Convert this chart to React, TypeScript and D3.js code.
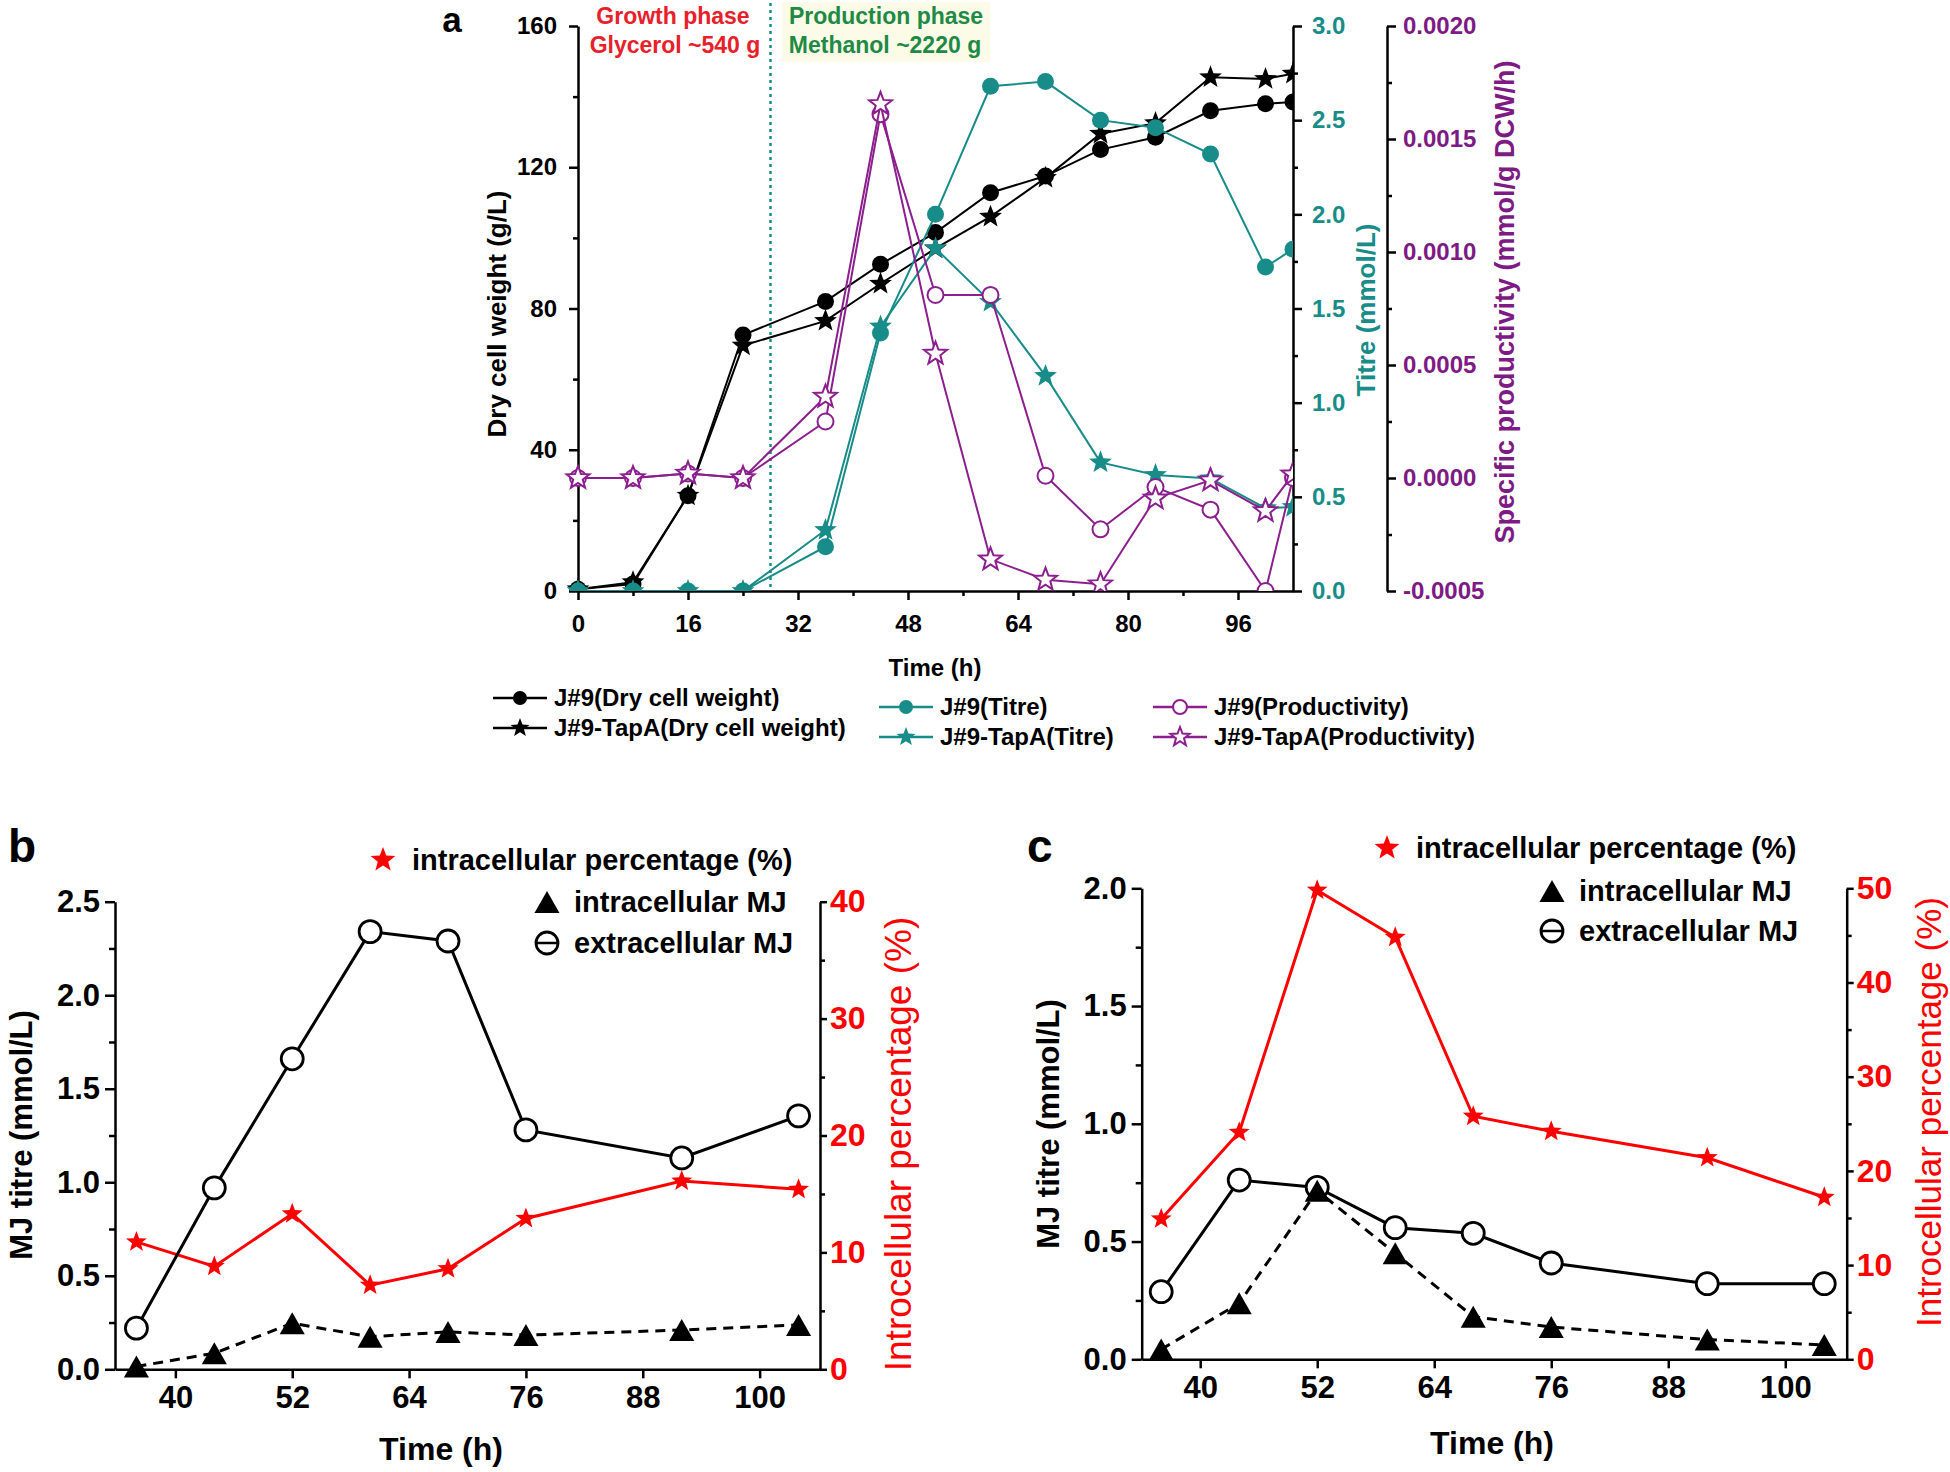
import React, { useEffect, useRef } from 'react';
import * as d3 from 'd3';

const FONT = '"Liberation Sans", Arial, Helvetica, sans-serif';
const TEAL = '#178c88';
const PURPLE = '#8b1f8e';
const PURPLE_TXT = '#7d1a84';
const RED = '#ff0000';
const GROWTH_RED = '#e8202a';
const PROD_GREEN = '#1f8a45';

// ---------------- Panel a data ----------------
const timeA = [0, 8, 16, 24, 36, 44, 52, 60, 68, 76, 84, 92, 100, 104];
const dcwJ9 = [0.5, 2, 27, 72.5, 82, 92.5, 101.5, 112.8, 117.5, 125, 128.5, 136, 138, 138.5];
const dcwTapA = [0.5, 2.5, 27, 69.5, 76.5, 87, 97, 106, 117, 129.5, 132.5, 145.5, 145, 146.5];
const titreJ9 = [0, 0, 0, 0, 0.235, 1.37, 2.0, 2.68, 2.705, 2.5, 2.46, 2.32, 1.72, 1.815];
const titreTapA = [0, 0, 0, 0, 0.324, 1.404, 1.82, 1.535, 1.142, 0.683, 0.616, 0.598, 0.44, 0.446];
const prodJ9 = [0, 0, 0.00002, 0, 0.00025, 0.00161, 0.00081, 0.00081, 0.00001, -0.000227, -0.00004, -0.00014, -0.0005, 0];
const prodTapA = [0, 0, 0.00002, 0, 0.00036, 0.001655, 0.00055, -0.00036, -0.00045, -0.00047, -0.00009, -0.00001, -0.000146, 0.000016];
const dcwTicks = [0, 40, 80, 120, 160];
const dcwMinor = [20, 60, 100, 140];
const timeTicksA = [0, 16, 32, 48, 64, 80, 96];
const timeMinorA = [8, 24, 40, 56, 72, 88];
const titreTicks = [0, 0.5, 1, 1.5, 2, 2.5, 3];
const titreMinor = [0.25, 0.75, 1.25, 1.75, 2.25, 2.75];
const prodTicks = [-0.0005, 0, 0.0005, 0.001, 0.0015, 0.002];
const prodMinor = [-0.00025, 0.00025, 0.00075, 0.00125, 0.00175];
const phaseBoundary = 28;
const legendA = [
  'J#9(Dry cell weight)', 'J#9-TapA(Dry cell weight)',
  'J#9(Titre)', 'J#9-TapA(Titre)',
  'J#9(Productivity)', 'J#9-TapA(Productivity)',
];

// ---------------- Panels b / c data ----------------
const timeBC = [36, 44, 52, 60, 68, 76, 92, 104];
const timeTicksBC = [40, 52, 64, 76, 88, 100];
const extraB = [0.22, 0.97, 1.66, 2.34, 2.29, 1.28, 1.13, 1.355];
const intraB = [0.015, 0.086, 0.246, 0.174, 0.2, 0.183, 0.21, 0.237];
const pctB = [10.9, 8.8, 13.3, 7.2, 8.6, 12.9, 16.1, 15.4];
const extraC = [0.287, 0.761, 0.73, 0.559, 0.535, 0.409, 0.321, 0.321];
const intraC = [0.042, 0.238, 0.716, 0.45, 0.181, 0.137, 0.084, 0.061];
const pctC = [14.9, 24.1, 49.8, 44.8, 25.8, 24.2, 21.4, 17.2];
const titreTicksB = [0, 0.5, 1, 1.5, 2, 2.5];
const titreMinorB = [0.25, 0.75, 1.25, 1.75, 2.25];
const pctTicksB = [0, 10, 20, 30, 40];
const pctMinorB = [5, 15, 25, 35];
const titreTicksC = [0, 0.5, 1, 1.5, 2];
const titreMinorC = [0.25, 0.75, 1.25, 1.75];
const pctTicksC = [0, 10, 20, 30, 40, 50];
const pctMinorC = [5, 15, 25, 35, 45];
const legendBC = ['intracellular percentage (%)', 'intracellular MJ', 'extracellular MJ'];

type Sel = d3.Selection<any, any, any, any>;

function starPath(R: number, ratio = 0.42): string {
  const pts: [number, number][] = [];
  for (let i = 0; i < 10; i++) {
    const r = i % 2 === 0 ? R : R * ratio;
    const a = -Math.PI / 2 + (i * Math.PI) / 5;
    pts.push([r * Math.cos(a), r * Math.sin(a)]);
  }
  return (d3.line()(pts) as string) + 'Z';
}

function triPath(w: number, h: number): string {
  return (d3.line()([[0, -h / 2], [w / 2, h / 2], [-w / 2, h / 2]]) as string) + 'Z';
}

function marker(g: Sel, kind: string, x: number, y: number, color: string, s: number, sw = 2) {
  if (kind === 'circle') {
    g.append('circle').attr('cx', x).attr('cy', y).attr('r', s).attr('fill', color);
  } else if (kind === 'ocircle') {
    g.append('circle').attr('cx', x).attr('cy', y).attr('r', s).attr('fill', '#fff').attr('stroke', color).attr('stroke-width', sw);
  } else if (kind === 'star') {
    g.append('path').attr('d', starPath(s)).attr('transform', `translate(${x},${y})`).attr('fill', color);
  } else if (kind === 'ostar') {
    g.append('path').attr('d', starPath(s)).attr('transform', `translate(${x},${y})`).attr('fill', '#fff').attr('stroke', color).attr('stroke-width', sw).attr('stroke-linejoin', 'miter');
  } else if (kind === 'tri') {
    g.append('path').attr('d', triPath(s * 1.14, s)).attr('transform', `translate(${x},${y})`).attr('fill', color);
  }
}

function addAxis(parent: Sel, gen: any, tx: number, ty: number, color: string, fs: number) {
  const g = parent.append('g').attr('transform', `translate(${tx},${ty})`).call(gen);
  g.attr('font-family', FONT).attr('font-size', fs).attr('font-weight', 'bold');
  g.select('.domain').attr('stroke', '#000').attr('stroke-width', 2.5);
  g.selectAll('.tick line').attr('stroke', '#000').attr('stroke-width', 2.5);
  g.selectAll('.tick text').attr('fill', color);
  return g;
}

function addMinor(parent: Sel, gen: any, tx: number, ty: number) {
  const g = parent.append('g').attr('transform', `translate(${tx},${ty})`).call(gen);
  g.select('.domain').remove();
  g.selectAll('.tick line').attr('stroke', '#000').attr('stroke-width', 2.5);
  g.selectAll('.tick text').remove();
}

function text(parent: Sel, s: string, x: number, y: number, o: any = {}) {
  const t = parent.append('text')
    .attr('x', o.rotate ? 0 : x).attr('y', o.rotate ? 0 : y)
    .attr('font-family', FONT)
    .attr('font-size', o.size ?? 24)
    .attr('font-weight', o.weight ?? 'bold')
    .attr('fill', o.color ?? '#000')
    .attr('text-anchor', o.anchor ?? 'start')
    .attr('dy', o.dy ?? '0.35em')
    .text(s);
  if (o.rotate) t.attr('transform', `translate(${x},${y}) rotate(-90)`);
  return t;
}

function drawA(svg: Sel) {
  const x = d3.scaleLinear([0, 104], [578, 1293]);
  const yL = d3.scaleLinear([0, 160], [591, 26]);
  const yT = d3.scaleLinear([0, 3], [591, 26]);
  const yP = d3.scaleLinear([-0.0005, 0.002], [591, 26]);
  const g = svg.append('g');

  // phase highlight + labels
  g.append('rect').attr('x', 782).attr('y', 2).attr('width', 208).attr('height', 60).attr('fill', '#fbfbe8');
  text(g, 'a', 452, 32, { size: 35, anchor: 'middle', dy: 0 });
  text(g, 'Growth phase', 673, 16, { size: 23, anchor: 'middle', color: GROWTH_RED });
  text(g, 'Glycerol ~540 g', 675, 45, { size: 23, anchor: 'middle', color: GROWTH_RED });
  text(g, 'Production phase', 886, 16, { size: 23, anchor: 'middle', color: PROD_GREEN });
  text(g, 'Methanol ~2220 g', 885, 45, { size: 23, anchor: 'middle', color: PROD_GREEN });

  // axes
  addAxis(g, d3.axisLeft(yL).tickValues(dcwTicks).tickSize(9).tickPadding(12).tickSizeOuter(0), 578, 0, '#000', 24);
  addMinor(g, d3.axisLeft(yL).tickValues(dcwMinor).tickSize(5).tickSizeOuter(0), 578, 0);
  addAxis(g, d3.axisBottom(x).tickValues(timeTicksA).tickSize(9).tickPadding(15).tickSizeOuter(0), 0, 591, '#000', 24);
  addMinor(g, d3.axisBottom(x).tickValues(timeMinorA).tickSize(5).tickSizeOuter(0), 0, 591);
  addAxis(g, d3.axisRight(yT).tickValues(titreTicks).tickFormat(d3.format('.1f')).tickSize(9).tickPadding(10).tickSizeOuter(0), 1293, 0, TEAL, 24);
  addMinor(g, d3.axisRight(yT).tickValues(titreMinor).tickSize(5).tickSizeOuter(0), 1293, 0);
  addAxis(g, d3.axisRight(yP).tickValues(prodTicks).tickFormat((d: any) => (+d).toFixed(4)).tickSize(9).tickPadding(7).tickSizeOuter(0), 1387, 0, PURPLE_TXT, 24);
  addMinor(g, d3.axisRight(yP).tickValues(prodMinor).tickSize(5).tickSizeOuter(0), 1387, 0);

  // axis titles
  text(g, 'Dry cell weight (g/L)', 497, 314, { size: 26, anchor: 'middle', rotate: true });
  text(g, 'Titre (mmol/L)', 1366, 310, { size: 26, anchor: 'middle', rotate: true, color: TEAL });
  text(g, 'Specific productivity (mmol/g DCW/h)', 1505, 302, { size: 27, anchor: 'middle', rotate: true, color: PURPLE_TXT });
  text(g, 'Time (h)', 935, 668, { size: 24, anchor: 'middle' });

  // phase boundary
  g.append('line').attr('x1', x(phaseBoundary)).attr('x2', x(phaseBoundary)).attr('y1', 3).attr('y2', 591)
    .attr('stroke', TEAL).attr('stroke-width', 2.5).attr('stroke-dasharray', '3,4');

  // data
  const defs = svg.append('defs');
  defs.append('clipPath').attr('id', 'clipA').append('rect').attr('x', 540).attr('y', 0).attr('width', 1293 - 540).attr('height', 591);
  const d = g.append('g').attr('clip-path', 'url(#clipA)');
  const series = [
    { vals: dcwJ9, y: yL, color: '#000', kind: 'circle', s: 8.5 },
    { vals: dcwTapA, y: yL, color: '#000', kind: 'star', s: 12 },
    { vals: titreJ9, y: yT, color: TEAL, kind: 'circle', s: 8.5 },
    { vals: titreTapA, y: yT, color: TEAL, kind: 'star', s: 12 },
    { vals: prodJ9, y: yP, color: PURPLE, kind: 'ocircle', s: 8 },
    { vals: prodTapA, y: yP, color: PURPLE, kind: 'ostar', s: 12 },
  ];
  series.forEach((se) => {
    const line = d3.line<number>().x((_, i) => x(timeA[i])).y((v) => se.y(v));
    d.append('path').attr('d', line(se.vals)).attr('fill', 'none').attr('stroke', se.color).attr('stroke-width', 2);
    se.vals.forEach((v, i) => marker(d, se.kind, x(timeA[i]), se.y(v), se.color, se.s, 2));
  });

  // legend
  const pos = [
    [493, 698], [493, 728], [879, 707], [879, 737], [1153, 707], [1153, 737],
  ];
  legendA.forEach((lab, i) => {
    const se = series[i];
    const [lx, ly] = pos[i];
    g.append('line').attr('x1', lx).attr('x2', lx + 54).attr('y1', ly).attr('y2', ly).attr('stroke', se.color).attr('stroke-width', 2.5);
    marker(g, se.kind, lx + 27, ly, se.color, se.kind.includes('star') ? 10 : 7, 2);
    text(g, lab, lx + 61, ly, { size: 24 });
  });
}

function drawMJ(svg: Sel, p: any) {
  const g = svg.append('g');
  const [x0, x1] = p.x.range();
  const yb = p.y.range()[0];
  text(g, p.letter, p.letterX, 862, { size: 46, dy: 0 });

  addAxis(g, d3.axisLeft(p.y).tickValues(p.yTicks).tickFormat(d3.format('.1f')).tickSize(10).tickPadding(5).tickSizeOuter(0), x0, 0, '#000', 31);
  addMinor(g, d3.axisLeft(p.y).tickValues(p.yMinor).tickSize(6).tickSizeOuter(0), x0, 0);
  addAxis(g, d3.axisBottom(p.x).tickValues(timeTicksBC).tickSize(9).tickPadding(8).tickSizeOuter(0), 0, yb, '#000', 31);
  addAxis(g, d3.axisRight(p.r).tickValues(p.rTicks).tickSize(7).tickPadding(3).tickSizeOuter(0), x1, 0, RED, 32);
  addMinor(g, d3.axisRight(p.r).tickValues(p.rMinor).tickSize(5).tickSizeOuter(0), x1, 0);

  text(g, 'MJ titre (mmol/L)', p.leftTitle[0], p.leftTitle[1], { size: 31, anchor: 'middle', rotate: true });
  text(g, 'Introcellular percentage (%)', p.rightTitle[0], p.rightTitle[1], { size: p.rightSize, weight: 'normal', anchor: 'middle', rotate: true, color: RED });
  text(g, 'Time (h)', p.timeLabel[0], p.timeLabel[1], { size: 32, anchor: 'middle' });

  const lx = (i: number) => p.x(timeBC[i]);
  // percentage (red stars)
  g.append('path').attr('d', d3.line<number>().x((_, i) => lx(i)).y((v) => p.r(v))(p.pct))
    .attr('fill', 'none').attr('stroke', RED).attr('stroke-width', 3);
  p.pct.forEach((v: number, i: number) => marker(g, 'star', lx(i), p.r(v), RED, 11));
  // extracellular (open circles)
  g.append('path').attr('d', d3.line<number>().x((_, i) => lx(i)).y((v) => p.y(v))(p.extra))
    .attr('fill', 'none').attr('stroke', '#000').attr('stroke-width', 3);
  p.extra.forEach((v: number, i: number) => marker(g, 'ocircle', lx(i), p.y(v), '#000', 11, 2.8));
  // intracellular (filled triangles, dashed)
  g.append('path').attr('d', d3.line<number>().x((_, i) => lx(i)).y((v) => p.y(v))(p.intra))
    .attr('fill', 'none').attr('stroke', '#000').attr('stroke-width', 3).attr('stroke-dasharray', '10,7');
  p.intra.forEach((v: number, i: number) => marker(g, 'tri', lx(i), p.y(v), '#000', 22));

  // legend
  const [sx, sy] = p.legStar;
  marker(g, 'star', sx, sy, RED, 13);
  text(g, legendBC[0], sx + 29, sy, { size: 29 });
  const [tx, ty] = p.legTri;
  marker(g, 'tri', tx, ty, '#000', 22);
  text(g, legendBC[1], tx + 27, ty, { size: 29 });
  const [cx, cy] = p.legCirc;
  marker(g, 'ocircle', cx, cy, '#000', 11, 2.8);
  g.append('line').attr('x1', cx - 11).attr('x2', cx + 11).attr('y1', cy).attr('y2', cy).attr('stroke', '#000').attr('stroke-width', 2.5);
  text(g, legendBC[2], cx + 27, cy, { size: 29 });
}

export default function App() {
  const ref = useRef<SVGSVGElement>(null);
  useEffect(() => {
    const svg = d3.select(ref.current) as Sel;
    svg.selectAll('*').remove();
    drawA(svg);
    drawMJ(svg, {
      letter: 'b', letterX: 8,
      x: d3.scaleLinear([33.8, 106.2], [115, 820]),
      y: d3.scaleLinear([0, 2.5], [1369.3, 901.7]),
      r: d3.scaleLinear([0, 40], [1369.3, 901.7]),
      yTicks: titreTicksB, yMinor: titreMinorB, rTicks: pctTicksB, rMinor: pctMinorB,
      extra: extraB, intra: intraB, pct: pctB,
      leftTitle: [21, 1135], rightTitle: [898, 1144], timeLabel: [441, 1449], rightSize: 37,
      legStar: [383, 860], legTri: [547, 902], legCirc: [547, 943],
    });
    drawMJ(svg, {
      letter: 'c', letterX: 1027,
      x: d3.scaleLinear([34, 106.3], [1141.7, 1846.7]),
      y: d3.scaleLinear([0, 2], [1359.3, 888.3]),
      r: d3.scaleLinear([0, 50], [1359.3, 888.3]),
      yTicks: titreTicksC, yMinor: titreMinorC, rTicks: pctTicksC, rMinor: pctMinorC,
      extra: extraC, intra: intraC, pct: pctC,
      leftTitle: [1048, 1124], rightTitle: [1929, 1112], timeLabel: [1492, 1443], rightSize: 35,
      legStar: [1387, 848], legTri: [1552, 891], legCirc: [1552, 931],
    });
  }, []);
  return (
    <div style={{ position: 'absolute', left: 0, top: 0 }}>
      <svg ref={ref} width={1950} height={1472} style={{ display: 'block', background: '#fff' }} />
    </div>
  );
}
